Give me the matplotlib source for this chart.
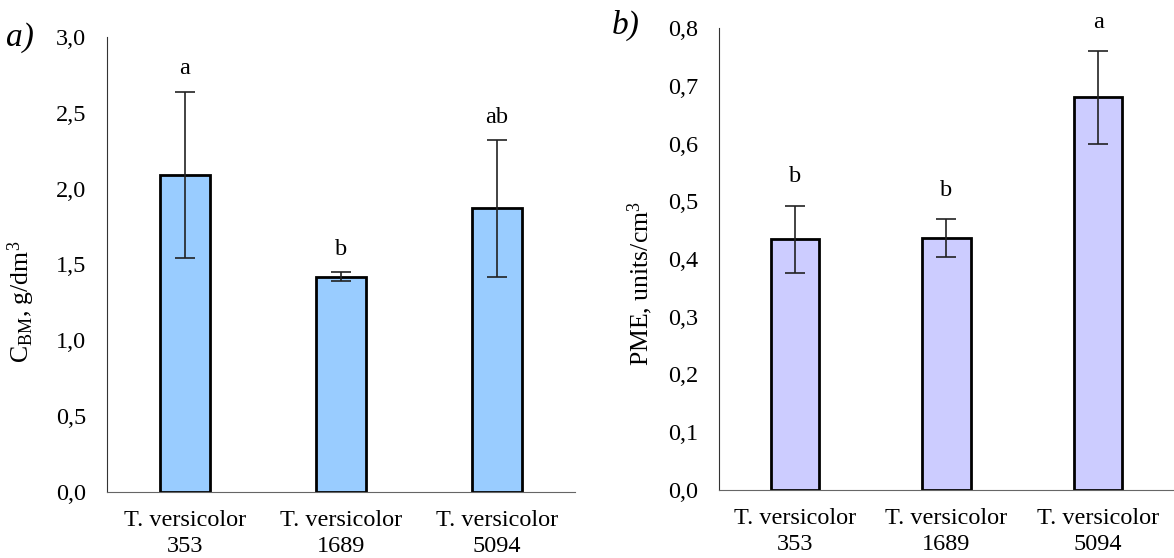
import numpy as np
import matplotlib.pyplot as plt
from matplotlib.ticker import FuncFormatter

# Daten
strains = ['T. versicolor\n353', 'T. versicolor\n1689', 'T. versicolor\n5094']
cbm = [2.09, 1.42, 1.87]
cbm_err = [0.55, 0.03, 0.45]
cbm_letters = ['a', 'b', 'ab']
pme = [0.434, 0.436, 0.68]
pme_err = [0.058, 0.033, 0.08]
pme_letters = ['b', 'b', 'a']

plt.rcParams['font.family'] = ['Liberation Serif', 'DejaVu Serif']
plt.rcParams['mathtext.fontset'] = 'custom'
plt.rcParams['mathtext.rm'] = 'Liberation Serif'
plt.rcParams['mathtext.it'] = 'Liberation Serif:italic'

fig = plt.figure(figsize=(11.74, 5.58), dpi=100)
ax1 = fig.add_axes([0.0911, 0.1183, 0.3987, 0.8154])
ax2 = fig.add_axes([0.6124, 0.1219, 0.3876, 0.8279])

comma = FuncFormatter(lambda v, _: f'{v:.1f}'.replace('.', ','))
FS = 17.5


def panel(ax, vals, errs, letters, color, ymax, step, off, ylabel, lx, ly):
    x = np.arange(len(vals))
    ax.bar(x, vals, width=0.32, color=color, edgecolor='black', linewidth=2)
    ax.errorbar(x, vals, yerr=errs, fmt='none', ecolor='#222222',
                elinewidth=1.2, capsize=7, capthick=1.2)
    for xi, v, e, t in zip(x, vals, errs, letters):
        ax.text(xi, v + e + off, t, ha='center', va='center', fontsize=FS)
    ax.set_xlim(-0.5, len(vals) - 0.5)
    ax.set_ylim(0, ymax)
    ax.set_yticks(np.arange(0, ymax + step / 2, step))
    ax.yaxis.set_major_formatter(comma)
    ax.set_xticks(x)
    ax.set_xticklabels(strains, fontsize=FS, linespacing=1.28)
    ax.tick_params(axis='both', length=0, labelsize=FS)
    ax.tick_params(axis='x', pad=13)
    ax.tick_params(axis='y', pad=15)
    ax.spines['top'].set_visible(False)
    ax.spines['right'].set_visible(False)
    ax.spines['left'].set_color('#333333')
    ax.spines['bottom'].set_color('#666666')
    ax.set_ylabel(ylabel, fontsize=18.5)
    ax.yaxis.set_label_coords(lx, ly)


panel(ax1, cbm, cbm_err, cbm_letters, '#99CCFF', 3.0, 0.5, 0.15,
      'C$_{\\mathrm{BM}}$, g/dm$^3$', -0.15, 0.418)
panel(ax2, pme, pme_err, pme_letters, '#CCCCFF', 0.8, 0.1, 0.05,
      'PME, units/cm$^3$', -0.141, 0.446)

fig.text(0.005, 0.932, 'a)', fontsize=24, style='italic', va='center')
fig.text(0.521, 0.955, 'b)', fontsize=24, style='italic', va='center')

plt.savefig('out.png', dpi=100)
